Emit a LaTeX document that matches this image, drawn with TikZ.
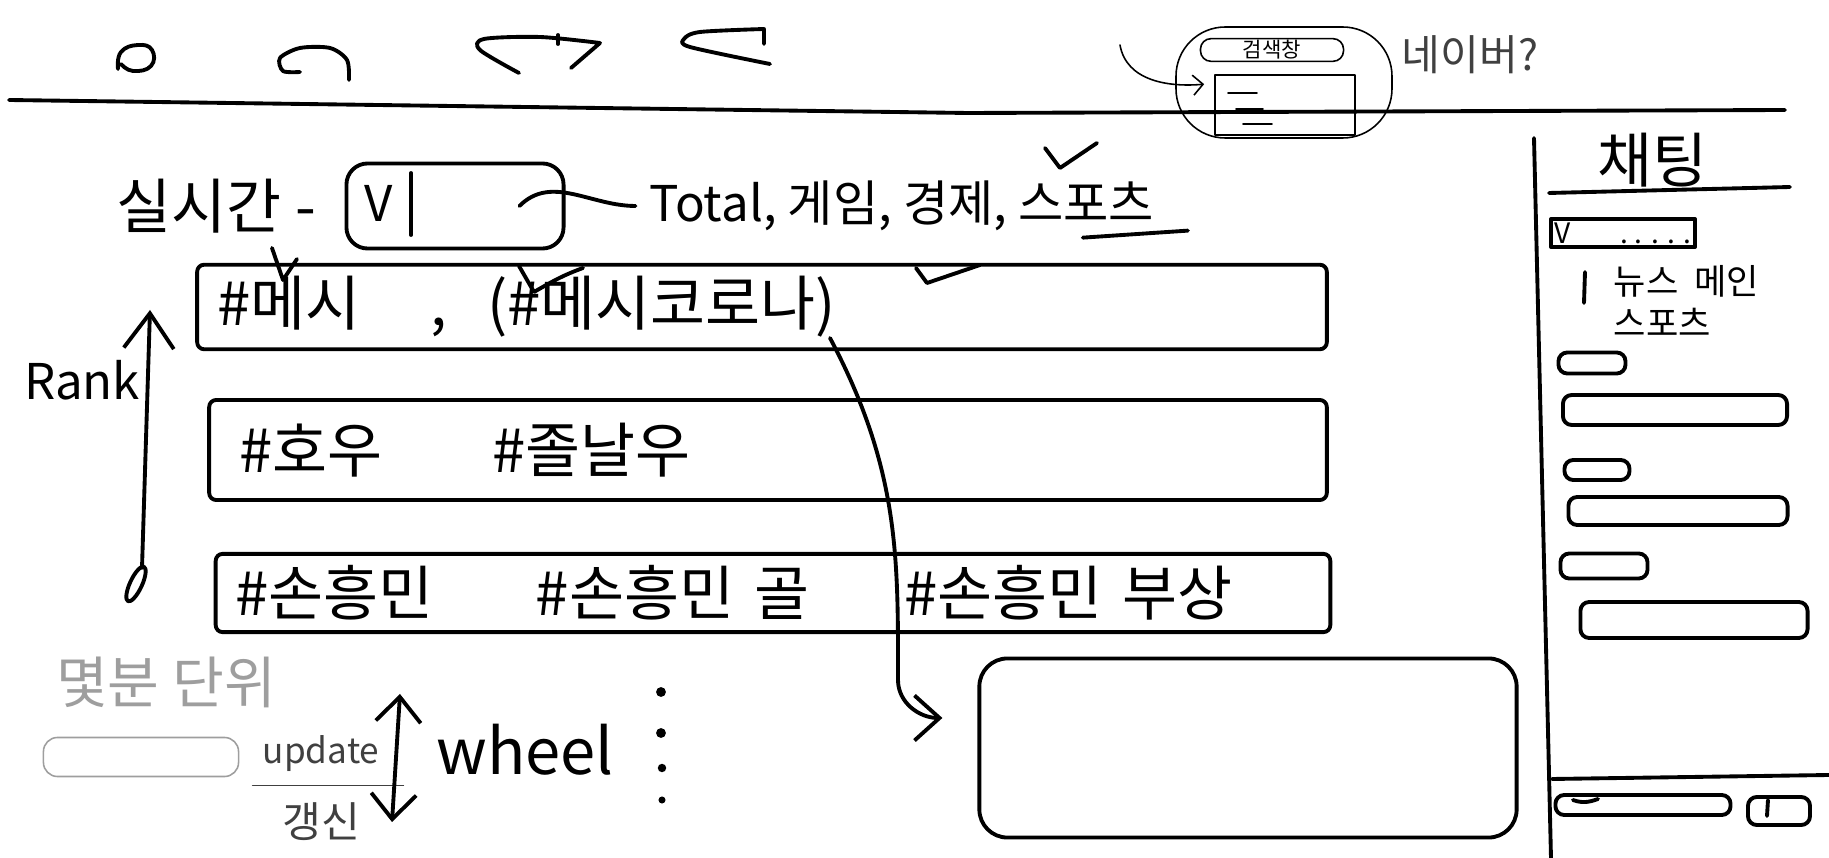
\documentclass[tikz,border=0pt]{standalone}
\usepackage{fontspec}
\setmainfont{Noto Sans CJK KR}
\usetikzlibrary{positioning,arrows.meta}
\definecolor{pale}{gray}{0.62}

\begin{document}
\begin{tikzpicture}[x=0.01cm, y=-0.01cm, line width=1.1pt, line cap=round, line join=round,
    >={Straight Barb[length=2.5mm,width=4.5mm]},
    big/.style = {font=\fontsize{17}{20}\selectfont},
    mid/.style = {font=\fontsize{14}{17}\selectfont},
    small/.style = {font=\fontsize{10}{12}\selectfont},
    rowbox/.style = {draw, rounded corners=2pt, inner xsep=0.2cm, align=left, font=\fontsize{17}{20}\selectfont},
    bubble/.style = {draw, rounded corners=2.5pt, inner sep=0pt},
    thin/.style = {line width=0.45pt}]

\useasboundingbox (0,0) rectangle (1829,858);

% toolbar
\draw plot[smooth, tension=0.8] coordinates {(121,64) (133,71) (151,66) (152,50) (138,45) (121,52) (118,69)};
\draw plot[smooth] coordinates {(300,72) (283,71) (280,58) (300,48) (330,48) (347,60) (349,80)};
\draw plot[smooth] coordinates {(519,73) (480,50) (484,39) (540,37) (600,43)} -- (571,68);
\draw (558,35) -- (558,44);
\draw plot[smooth] coordinates {(770,64) (690,47) (684,39) (700,32) (764,29)} -- (764,44);
\draw (9,100) -- (968,113) -- (1785,110);

% search
\draw[thin, rounded corners=14pt] (1176,27) rectangle (1392,138);
\node[draw, thin, rounded corners=3pt, minimum width=1.43cm, minimum height=0.17cm, inner sep=0.5pt, font=\fontsize{6}{6}\selectfont] (sbar) at (1272,50) {검색창};
\node[draw, thin, minimum width=1.4cm, minimum height=0.6cm] (sres) at (1285,105) {};
\draw[thin] (1228,93) -- (1257,93) (1236,109) -- (1263,109) (1243,124) -- (1272,124);
\coordinate (sfrom) at (1120,45);
\draw[thin, -{Straight Barb[length=1mm,width=2mm]}] (sfrom) to[out=-80, in=185] ([xshift=-1mm,yshift=-1mm]sres.north west);
\node[font=\fontsize{12}{14}\selectfont, text=black!75] (naver) at (1470,55) {네이버?};

% selection
\node[draw, rounded corners=6pt, minimum width=2.17cm, minimum height=0.85cm] (drop) at (455,206) {};
\node[mid] (v) at (379,203) {V};
\draw (411,173) -- (411,235);
\node[big, left=0.15cm of drop] (live) {실시간 -};
\node[mid, right=0.7cm of drop] (cat) {Total, 게임, 경제, 스포츠};
\draw ([xshift=-0.46cm]drop.east) to[out=45, in=180] (cat.west);
\draw ([xshift=-0.85cm,yshift=2pt]cat.south east) -- ([xshift=0.2cm,yshift=4pt]cat.south east);
\draw (1045,148) -- (1060,168) -- (1097,143);

% rows
\node[rowbox, minimum width=11.29cm, minimum height=0.82cm, text width=10.89cm] (r1) at (762,307) {\#메시\hspace{0.7cm},\hspace{0.4cm}(\#메시코로나)};
\node[rowbox, minimum width=11.17cm, minimum height=1.0cm, text width=10.77cm] (r2) at (768,450) {\hspace*{0.1cm}\#호우\hspace{1.1cm}\#졸날우};
\node[rowbox, minimum width=11.14cm, minimum height=0.7cm, text width=10.74cm] (r3) at (773,593) {\#손흥민\hspace{1.02cm}\#손흥민 골\hspace{0.95cm}\#손흥민 부상};
\draw (272,248) -- (283,280) -- (297,259);
\draw (519,266) -- (534,292) to[out=30, in=200] (583,268);
\draw (916,268) -- (927,283) -- (980,265);

% rank
\coordinate (rbot) at (142,568);
\coordinate (rtop) at (150,310);
\draw[-{Straight Barb[length=3.5mm,width=5mm]}] (rbot) -- (rtop);
\draw[rotate around={-25:(136,584)}] (136,584) ellipse (0.06cm and 0.19cm);
\node[mid] (rank) at (82,380) {Rank};

% detail
\coordinate (tap) at (830,338);
\node[draw, rounded corners=8pt, minimum width=5.37cm, minimum height=1.79cm] (detail) at (1248,748) {};
\draw[->] (tap) .. controls (900,470) and (898,560) .. (898,680) to[out=-90, in=180] ([shift={(-0.35cm,0.3cm)}]detail.west);

% update
\node[font=\fontsize{16}{18}\selectfont, text=pale] (unit) at (166,682) {몇분 단위};
\node[draw=pale, thin, rounded corners=4pt, minimum width=1.95cm, minimum height=0.39cm] (slot) at (141,757) {};
\node[small, text=black!75] (upd) at (321,754) {update};
\node[font=\fontsize{12}{14}\selectfont, text=black!75, below=1pt of upd] (renew) {갱신};
\draw[thin, black!75] ([xshift=1pt]upd.south west) -- ([xshift=3pt]upd.south east);
\coordinate (wtop) at (400,694);
\coordinate (wbot) at (392,822);
\draw[<->] (wtop) -- (wbot);
\node[font=\fontsize{18}{22}\selectfont] (wheel) at (525,750) {wheel};
\fill (661,692) circle (1.4pt) (661,733) circle (1.4pt) (662,768) circle (1.2pt) (662,800) circle (1pt);

% chat
\draw (1534,138) -- (1551,858);
\node[big] (chat) at (1652,160) {채팅};
\draw (1549,193) -- (1790,187);
\node[draw, minimum width=1.36cm, minimum height=0.27cm, inner sep=1pt, font=\fontsize{8}{9}\selectfont] (cin) at (1623,233) {V\hspace{0.5cm}. . . . .};
\node[small, align=left, anchor=north west] (menu) at (1600,252) {뉴스~~메인\\스포츠};
\draw (1585,272) -- (1584,303);
\node[bubble, minimum width=0.67cm, minimum height=0.21cm] (b1) at (1592,363) {};
\node[bubble, minimum width=2.24cm, minimum height=0.30cm] (b2) at (1675,410) {};
\node[bubble, minimum width=0.65cm, minimum height=0.20cm] (b3) at (1597,470) {};
\node[bubble, minimum width=2.19cm, minimum height=0.28cm] (b4) at (1678,511) {};
\node[bubble, minimum width=0.87cm, minimum height=0.25cm] (b5) at (1604,566) {};
\node[bubble, minimum width=2.27cm, minimum height=0.36cm] (b6) at (1694,620) {};
\draw (1552,779) -- (1829,775);
\node[bubble, minimum width=1.75cm, minimum height=0.2cm] (msg) at (1643,805) {};
\node[bubble, minimum width=0.62cm, minimum height=0.28cm] (send) at (1779,811) {};
\draw (1768,800) -- (1767,816);
\draw (1573,800) to[out=-20, in=200] (1598,799);
\end{tikzpicture}
\end{document}
